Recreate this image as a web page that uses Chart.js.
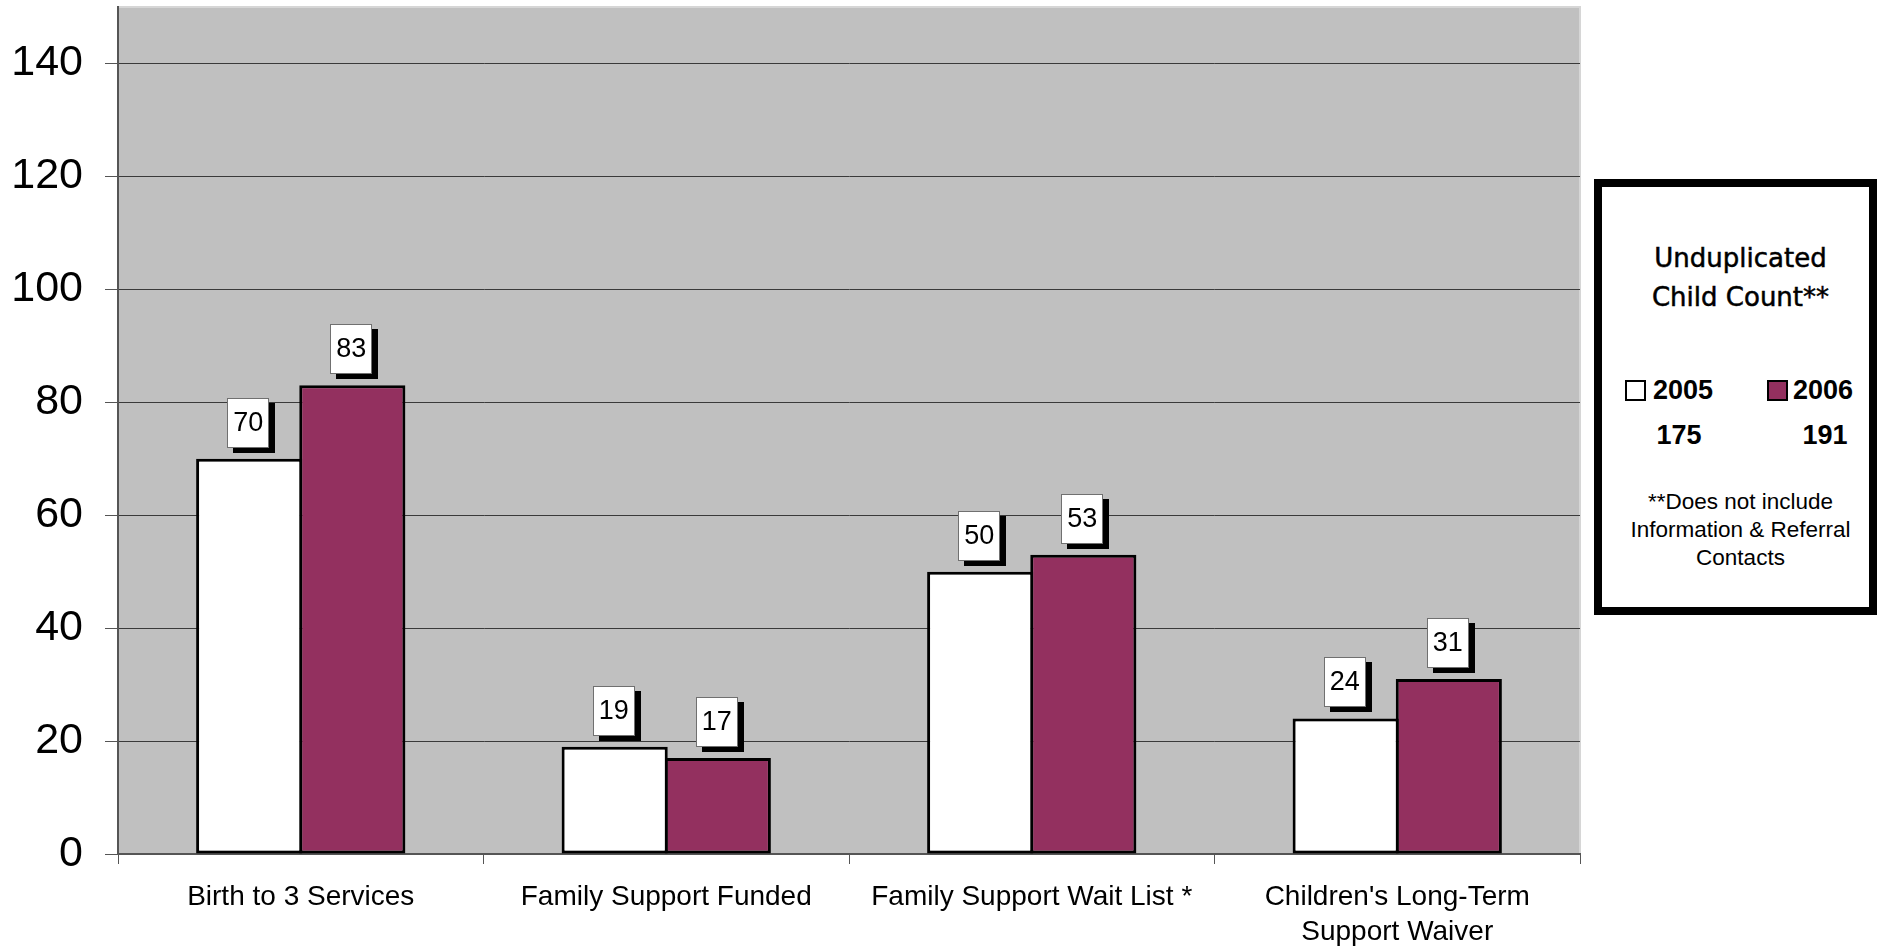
<!DOCTYPE html>
<html>
<head>
<meta charset="utf-8">
<script src="https://cdn.jsdelivr.net/npm/chart.js@4/dist/chart.umd.min.js"></script>
<style>
  html, body { margin: 0; padding: 0; background: #fff; }
  #wrap { position: relative; width: 1884px; height: 947px; }
  canvas { position: absolute; left: 0; top: 0; }
  #legend {
    position: absolute; left: 1594px; top: 179px; width: 267px; height: 420px;
    border: 8px solid #000; background: #fff; font-family: "Liberation Sans", Arial, sans-serif; color: #000;
  }
  #legend .t { position: absolute; left: 5px; width: 100%; text-align: center; }
  #legend .title { font-family: "DejaVu Sans", sans-serif; font-size: 26px; line-height: 39px; top: 52px; -webkit-text-stroke: 0.5px #000; }
  #legend .yr { position: absolute; font-weight: bold; font-size: 27px; line-height: 30px; }
  #legend .sw { position: absolute; width: 17px; height: 17px; border: 2px solid #000; }
  #legend .note { font-size: 22.5px; line-height: 28px; top: 301px; }
</style>
</head>
<body>
<div id="wrap">
  <canvas id="c" width="1884" height="947"></canvas>
  <div id="legend"></div>
</div>
<script>
const categories = ['Birth to 3 Services', 'Family Support Funded', 'Family Support Wait List *', ["Children's Long-Term", 'Support Waiver']];
const seriesNames = ['2005', '2006'];
const values2005 = [70, 19, 50, 24];
const values2006 = [83, 17, 53, 31];
const totals = [175, 191];
const legendTitle = ['Unduplicated', 'Child Count**'];
const legendNote = ['**Does not include', 'Information & Referral', 'Contacts'];
const yTickMax = 150;
const yTickStep = 20;

const colors = ['#FFFFFF', '#93305F'];

// Legend box (HTML text)
const lg = document.getElementById('legend');
lg.innerHTML =
  '<div class="t title">' + legendTitle.join('<br>') + '</div>' +
  '<div class="sw" style="left:23px;top:193px;background:' + colors[0] + '"></div>' +
  '<div class="yr" style="left:51px;top:188px">' + seriesNames[0] + '</div>' +
  '<div class="sw" style="left:165px;top:193px;background:' + colors[1] + '"></div>' +
  '<div class="yr" style="left:191px;top:188px">' + seriesNames[1] + '</div>' +
  '<div class="yr" style="left:77px;width:0;top:233px"><span style="position:absolute;transform:translateX(-50%)">' + totals[0] + '</span></div>' +
  '<div class="yr" style="left:223px;width:0;top:233px"><span style="position:absolute;transform:translateX(-50%)">' + totals[1] + '</span></div>' +
  '<div class="t note">' + legendNote.join('<br>') + '</div>';

const plotBg = {
  id: 'plotBg',
  beforeDraw(chart) {
    const { ctx, chartArea: a } = chart;
    ctx.save();
    ctx.fillStyle = '#C0C0C0';
    ctx.fillRect(a.left, a.top, a.right - a.left, a.bottom - a.top);
    ctx.strokeStyle = '#D6D6D6';
    ctx.lineWidth = 2;
    ctx.beginPath();
    ctx.moveTo(a.left, a.top);
    ctx.lineTo(a.right, a.top);
    ctx.lineTo(a.right, a.bottom);
    ctx.stroke();
    ctx.restore();
  }
};

const valueBoxes = {
  id: 'valueBoxes',
  afterDatasetsDraw(chart) {
    const ctx = chart.ctx;
    ctx.save();
    ctx.font = '27px "Liberation Sans", Arial, sans-serif';
    ctx.textAlign = 'center';
    ctx.textBaseline = 'middle';
    chart.data.datasets.forEach((ds, di) => {
      const meta = chart.getDatasetMeta(di);
      meta.data.forEach((bar, i) => {
        const txt = String(ds.data[i]);
        const w = Math.round(ctx.measureText(txt).width + 12);
        const h = 50;
        const cx = bar.x - 1;
        const bottom = bar.y - 11;
        const x = Math.round(cx - w / 2), y = Math.round(bottom - h);
        ctx.fillStyle = '#000';
        ctx.fillRect(x + 6, y + 5, w, h);
        ctx.fillStyle = '#fff';
        ctx.fillRect(x, y, w, h);
        ctx.strokeStyle = '#707070';
        ctx.lineWidth = 1;
        ctx.strokeRect(x + 0.5, y + 0.5, w - 1, h - 1);
        ctx.fillStyle = '#000';
        ctx.fillText(txt, cx, y + h / 2 + 1);
      });
    });
    ctx.restore();
  }
};

new Chart(document.getElementById('c'), {
  type: 'bar',
  data: {
    labels: categories,
    datasets: [
      { label: seriesNames[0], data: values2005, backgroundColor: colors[0], borderColor: '#000', borderWidth: 3, borderSkipped: false },
      { label: seriesNames[1], data: values2006, backgroundColor: colors[1], borderColor: '#000', borderWidth: 3, borderSkipped: false }
    ]
  },
  options: {
    responsive: false,
    animation: false,
    devicePixelRatio: 1,
    categoryPercentage: 0.5644,
    barPercentage: 1.029,
    layout: { padding: { top: 7, right: 304, left: 0, bottom: 0 } },
    plugins: { legend: { display: false }, tooltip: { enabled: false } },
    scales: {
      x: {
        grid: { display: true, offset: true, drawOnChartArea: false, tickLength: 10, color: '#555', lineWidth: 1 },
        border: { display: true, color: '#555', width: 2 },
        ticks: {
          color: '#000', padding: 15, maxRotation: 0, autoSkip: false,
          font: { family: '"Liberation Sans", Arial, sans-serif', size: 28, lineHeight: 1.28 }
        },
        afterFit(s) { s.height = 93; s.paddingLeft = 0; s.paddingRight = 0; }
      },
      y: {
        min: 0, max: yTickMax,
        grid: { color: '#3A3A3A', lineWidth: 1, tickLength: 13, tickColor: '#555' },
        border: { display: true, color: '#555', width: 2 },
        ticks: {
          stepSize: yTickStep, includeBounds: false, color: '#000', padding: 22,
          font: { family: '"Liberation Sans", Arial, sans-serif', size: 43 }
        },
        afterFit(s) { s.width = 118; s.paddingTop = 0; s.paddingBottom = 0; }
      }
    }
  },
  plugins: [plotBg, valueBoxes]
});
</script>
</body>
</html>
